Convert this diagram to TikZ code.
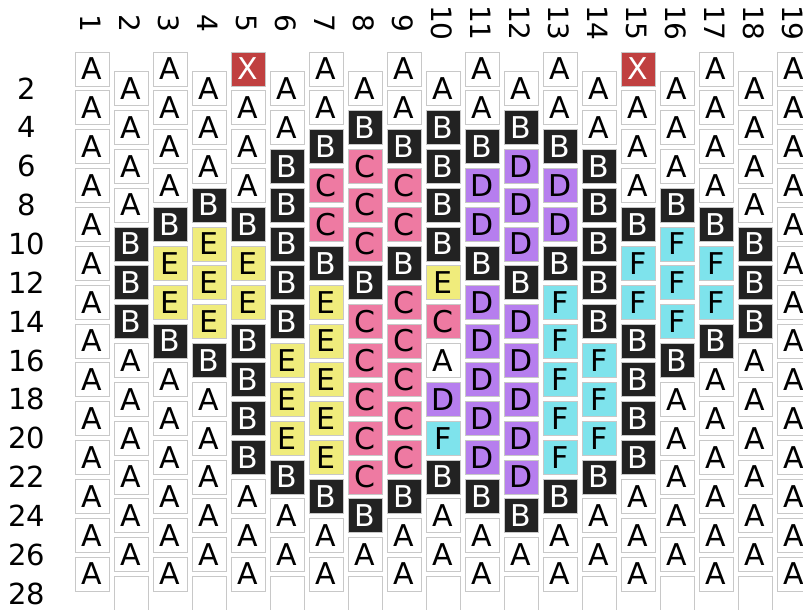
\documentclass[tikz,border=0pt]{standalone}
\usepackage{fontspec}
\setmainfont{DejaVu Sans}
\definecolor{rim}{HTML}{C8C8C8}
\definecolor{beadB}{HTML}{222222}
\definecolor{beadC}{HTML}{EE7AA2}
\definecolor{beadD}{HTML}{B67EEE}
\definecolor{beadE}{HTML}{F0EC7C}
\definecolor{beadF}{HTML}{7EE3EC}
\definecolor{beadX}{HTML}{C04040}
\begin{document}
\begin{tikzpicture}[x=1pt,y=-1pt,bead/.style={draw=rim,line width=0.8pt,minimum size=34pt,inner sep=0pt,fill=white,font=\fontsize{30}{30}\selectfont},bA/.style={bead},bB/.style={bead,fill=beadB,text=white},bC/.style={bead,fill=beadC},bD/.style={bead,fill=beadD},bE/.style={bead,fill=beadE},bF/.style={bead,fill=beadF},bX/.style={bead,fill=beadX,text=white},lbl/.style={font=\fontsize{29}{29}\selectfont}]
\useasboundingbox (0,0) rectangle (803,610);
% column numbers, read downwards
\foreach \c in {1,...,19}
  \node[lbl,font=\fontsize{28}{28}\selectfont,rotate=-90] (col\c) at ({90.5+39*(\c-1)},23) {\c};
% row numbers
\foreach \r in {2,4,...,28}
  \node[lbl] (row\r) at (27,{88.5+38.85*(\r/2-1)}) {\r};
% beads, top to bottom, one list per column
\foreach \c/\beads in {1/{A,A,A,A,A,A,A,A,A,A,A,A,A,A},2/{A,A,A,A,B,B,B,A,A,A,A,A,A},3/{A,A,A,A,B,E,E,B,A,A,A,A,A,A},4/{A,A,A,B,E,E,E,B,A,A,A,A,A},5/{X,A,A,A,B,E,E,B,B,B,B,A,A,A},6/{A,A,B,B,B,B,B,E,E,E,B,A,A},7/{A,A,B,C,C,B,E,E,E,E,E,B,A,A},8/{A,B,C,C,C,B,C,C,C,C,C,B,A},9/{A,A,B,C,C,B,C,C,C,C,C,B,A,A},10/{A,B,B,B,B,E,C,A,D,F,B,A,A},11/{A,A,B,D,D,B,D,D,D,D,D,B,A,A},12/{A,B,D,D,D,B,D,D,D,D,D,B,A},13/{A,A,B,D,D,B,F,F,F,F,F,B,A,A},14/{A,A,B,B,B,B,B,F,F,F,B,A,A},15/{X,A,A,A,B,F,F,B,B,B,B,A,A,A},16/{A,A,A,B,F,F,F,B,A,A,A,A,A},17/{A,A,A,A,B,F,F,B,A,A,A,A,A,A},18/{A,A,A,A,B,B,B,A,A,A,A,A,A},19/{A,A,A,A,A,A,A,A,A,A,A,A,A,A}} {
  \pgfmathsetmacro\dy{mod(\c+1,2)*19.5} % even columns sit half a bead lower
  \foreach \b [count=\i] in \beads
    \node[b\b] (c\c-\i) at ({92+39*(\c-1)},{69+\dy+38.85*(\i-1)}) {\b};
}
% empty beads at the foot of the even columns
\foreach \c in {2,4,...,18}
  \node[bead] (c\c-14) at ({92+39*(\c-1)},{88.5+38.85*13}) {};
\end{tikzpicture}
\end{document}
